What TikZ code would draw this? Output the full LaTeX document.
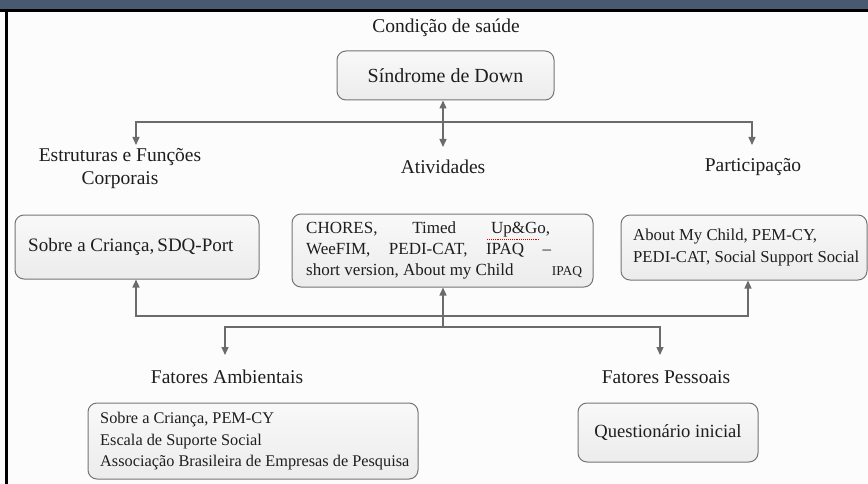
\documentclass[tikz,border=0pt]{standalone}
\usepackage{fontspec}
\setmainfont{Liberation Serif}
\usetikzlibrary{arrows.meta}
\definecolor{band}{HTML}{475A6F}
\definecolor{conn}{HTML}{6B6B6B}
\definecolor{boxline}{HTML}{757575}
\definecolor{txt}{HTML}{1E1E1E}
\definecolor{bgc}{HTML}{FCFCFC}
\begin{document}
\begin{tikzpicture}[x=1pt,y=-1pt,
  fbox/.style={draw=boxline, line width=1pt, rounded corners=9pt, top color=gray!5, bottom color=gray!15, inner sep=0pt},
  btxt/.style={text=txt, inner sep=0pt, align=left},
  lbl/.style={text=txt, inner sep=0pt, font=\fontsize{19.5}{23}\selectfont},
  tip/.tip={Triangle[length=8pt,width=7pt]},
  arr/.style={draw=conn, line width=1.4pt, -tip},
  darr/.style={draw=conn, line width=1.4pt, tip-tip}]
\useasboundingbox (0,0) rectangle (868,484);
\fill[bgc] (0,0) rectangle (868,484);
\fill[band] (0,0) rectangle (868,9.5);
\draw[black, line width=3pt] (0,10.5) -- (868,10.5);
\draw[black, line width=3pt] (6.5,9) -- (6.5,484);

% top
\node[lbl] (cond) at (446,28) {Condição de saúde};
\node[fbox, minimum width=217pt, minimum height=49pt, text=txt, font=\fontsize{20}{24}\selectfont] (sd) at (445.5,75.5) {Síndrome de Down};

% headings
\node[lbl, align=center] (est) at (120,168.5) {Estruturas e Funções\\Corporais};
\node[lbl] (ativ) at (443,167) {Atividades};
\node[lbl] (part) at (753,167) {Participação};

% middle boxes
\node[fbox, minimum width=244pt, minimum height=64pt] (b1) at (137,247) {};
\node[btxt, anchor=west, font=\fontsize{19}{23}\selectfont] (b1t) at (28,247) {Sobre a Criança,\,SDQ-Port};

\node[fbox, minimum width=301pt, minimum height=73pt] (b2) at (442.5,250.5) {};
\node[btxt, anchor=west, font=\fontsize{17}{21}\selectfont] (b2t) at (306,250) {\makebox[244pt][l]{CHORES,\hfill Timed\hfill Up\&Go,}\\
\makebox[245pt][l]{WeeFIM,\hfill PEDI-CAT,\hfill IPAQ\hfill –}\\
\makebox[276pt][l]{short version, About my Child\hfill{\fontsize{13.5}{16}\selectfont IPAQ}}};
\draw[red!85!black, densely dotted, line width=0.9pt] (487,239) -- (540,239);

\node[fbox, minimum width=246pt, minimum height=65pt] (b3) at (744,247.5) {};
\node[btxt, anchor=west, font=\fontsize{16.7}{22.5}\selectfont] (b3t) at (633,247.5) {About My Child, PEM-CY,\\PEDI-CAT, Social Support Social};

% bottom headings
\node[lbl] (fa) at (227,377) {Fatores Ambientais};
\node[lbl] (fp) at (666,377) {Fatores Pessoais};

% bottom boxes
\node[fbox, minimum width=330pt, minimum height=76pt] (b4) at (253,441) {};
\node[btxt, anchor=west, font=\fontsize{16.3}{21.5}\selectfont] (b4t) at (100,441.5) {Sobre a Criança, PEM-CY\\Escala de Suporte Social\\Associação Brasileira de Empresas de Pesquisa};

\node[fbox, minimum width=180pt, minimum height=59pt, text=txt, font=\fontsize{18.6}{22}\selectfont] (b5) at (668,432.5) {Questionário inicial};

% connector points
\coordinate (j1) at (443,122);
\coordinate (t0) at (136,145);
\coordinate (t1) at (443,147);
\coordinate (t2) at (752,145);
\coordinate (j2) at (443,316);
\coordinate (j3) at (443,327);
\coordinate (u1) at (136,279);
\coordinate (u3) at (748,280);
\coordinate (t3) at (225,355);
\coordinate (t4) at (660,355);

% top tree
\draw[darr] (sd.south -| t1) -- (t1);
\draw[arr] (j1) -| (t0);
\draw[arr] (j1) -| (t2);

% bottom tree
\draw[arr] (j2) -| (b1.south -| u1);
\draw[arr] (j2) -| (b3.south -| u3);
\draw[arr] (j3) -- (b2.south -| j3);
\draw[arr] (j3) -| (t3);
\draw[arr] (j3) -| (t4);
\end{tikzpicture}
\end{document}
